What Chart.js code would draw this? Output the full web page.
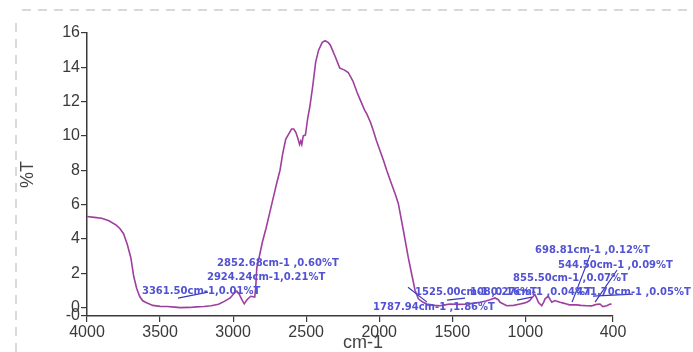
<!DOCTYPE html>
<html>
<head>
<meta charset="utf-8">
<script src="https://cdn.jsdelivr.net/npm/chart.js@4/dist/chart.umd.min.js"></script>
<style>
  html, body { margin: 0; padding: 0; background: #fff; }
</style>
</head>
<body>
<canvas id="ftir" width="693" height="352"></canvas>
<script>
// FTIR spectrum, %T vs wavenumber (cm-1), reversed x axis

const wavenumber = [
  4000, 3950, 3900, 3850, 3800, 3775, 3750, 3725, 3700, 3680, 3660, 3640, 3620, 3600,
  3550, 3500, 3450, 3400, 3361, 3300, 3250, 3200, 3150, 3100, 3060, 3020, 2990, 2975,
  2960, 2940, 2924, 2905, 2880, 2852, 2845, 2838, 2820, 2800, 2775, 2750, 2725, 2700,
  2679, 2660, 2640, 2620, 2600, 2585, 2570, 2555, 2545, 2537, 2530, 2520, 2505, 2490,
  2475, 2455, 2435, 2415, 2390, 2370, 2350, 2335, 2315, 2300, 2270, 2240, 2212, 2180,
  2150, 2130, 2100, 2086, 2060, 2040, 2020, 1995, 1970, 1949, 1920, 1890, 1869, 1835,
  1801, 1778, 1755, 1732, 1700, 1675, 1620, 1584, 1550, 1516, 1450, 1400, 1350, 1310,
  1270, 1242, 1207, 1185, 1173, 1150, 1127, 1080, 1036, 1010, 990, 970, 956, 934,
  920, 911, 888, 875, 865, 843, 830, 819, 797, 780, 762, 740, 717, 698,
  650, 620, 580, 545, 535, 510, 489, 470, 443, 420, 410
];
const transmittance = [
  5.3, 5.25, 5.2, 5.05, 4.8, 4.6, 4.3, 3.7, 2.9, 1.8, 1.1, 0.65, 0.4, 0.3,
  0.12, 0.06, 0.05, 0.02, -0.01, 0.0, 0.03, 0.05, 0.1, 0.18, 0.35, 0.55, 0.85, 0.95,
  0.8, 0.45, 0.21, 0.45, 0.65, 0.6, 1.2, 2.3, 3.0, 3.8, 4.6, 5.5, 6.4, 7.3,
  8.0, 9.0, 9.8, 10.1, 10.4, 10.4, 10.2, 9.8, 9.5, 9.7, 9.5, 10.0, 10.05, 11.0,
  11.7, 12.9, 14.3, 15.0, 15.45, 15.55, 15.45, 15.3, 14.9, 14.6, 13.95, 13.85, 13.7, 13.2,
  12.5, 12.1, 11.5, 11.3, 10.8, 10.3, 9.75, 9.15, 8.55, 8.0, 7.3, 6.6, 6.05, 4.5,
  2.9, 1.95, 1.0, 0.5, 0.3, 0.2, 0.12, 0.1, 0.15, 0.2, 0.18, 0.2, 0.25, 0.3,
  0.38, 0.45, 0.55, 0.45, 0.3, 0.2, 0.1, 0.12, 0.2, 0.25, 0.3, 0.4, 0.55, 0.75,
  0.5, 0.3, 0.1, 0.3, 0.5, 0.65, 0.45, 0.3, 0.4, 0.35, 0.3, 0.25, 0.2, 0.15,
  0.15, 0.12, 0.1, 0.09, 0.12, 0.18, 0.2, 0.05, 0.1, 0.2, 0.18
];

const xTicks = [4000, 3500, 3000, 2500, 2000, 1500, 1000, 400];
const yTicks = [16, 14, 12, 10, 8, 6, 4, 2, 0, -0.5];
const yTickLabels = ["16", "14", "12", "10", "8", "6", "4", "2", "0", "-0"];

// peak annotations: text + where the text starts (cm-1, %T)
const peakText = [
  "2852.68cm-1 ,0.60%T", "2924.24cm-1,0.21%T", "3361.50cm-1,0.01%T",
  "1787.94cm-1 ,1.86%T", "1525.00cm-1 ,0.16%T", "1080.27cm-1 ,0.04%T",
  "471.70cm-1 ,0.05%T", "855.50cm-1 ,0.07%T", "544.50cm-1 ,0.09%T",
  "698.81cm-1 ,0.12%T"
];
const peakTextWn = [3110, 3179, 3624, 2042, 1755, 1379, 653, 1084, 776, 934];
const peakTextT = [2.58, 1.74, 0.92, -0.01, 0.89, 0.89, 0.89, 1.71, 2.47, 3.34];

// hand-drawn leader strokes [wn1, T1, wn2, T2]
const leaderLines = [
  [3377, 0.54, 3172, 0.89],
  [1803, 1.18, 1673, 0.31],
  [1536, 0.43, 1413, 0.54],
  [1057, 0.43, 955, 0.60],
  [557, 3.05, 680, 0.31],
  [372, 2.18, 523, 0.31],
  [537, 0.66, 263, 0.78]
];

const TICK_FONT = { family: "'Liberation Sans', Arial, sans-serif", size: 16 };
const AXIS_COLOR = "#3a3a3a";

const decor = {
  id: "decor",
  beforeDraw(chart) {
    const ctx = chart.ctx;
    ctx.save();
    ctx.strokeStyle = "#cdcdcd";
    ctx.lineWidth = 1.5;
    ctx.setLineDash([9, 7]);
    ctx.beginPath();
    ctx.moveTo(16, 352);
    ctx.lineTo(16, 16);
    ctx.moveTo(22, 10);
    ctx.lineTo(693, 10);
    ctx.stroke();
    ctx.restore();
  },
  afterDatasetsDraw(chart) {
    const { ctx, chartArea } = chart;
    const x = chart.scales.x, y = chart.scales.y;
    ctx.save();
    ctx.strokeStyle = "#3838bc";
    ctx.lineWidth = 1.2;
    leaderLines.forEach(l => {
      ctx.beginPath();
      ctx.moveTo(x.getPixelForValue(l[0]), y.getPixelForValue(l[1]));
      ctx.lineTo(x.getPixelForValue(l[2]), y.getPixelForValue(l[3]));
      ctx.stroke();
    });
    ctx.fillStyle = "#5252d4";
    ctx.font = "bold 10px 'DejaVu Sans', sans-serif";
    ctx.textAlign = "left";
    ctx.textBaseline = "middle";
    peakText.forEach((t, i) => {
      ctx.fillText(t, x.getPixelForValue(peakTextWn[i]), y.getPixelForValue(peakTextT[i]));
    });
    // x axis title, sits a bit right of centre in the original
    ctx.fillStyle = "#444";
    ctx.font = "18px 'Liberation Sans', Arial, sans-serif";
    ctx.textAlign = "center";
    ctx.fillText("cm-1", (chartArea.left + chartArea.right) / 2 + 13, 343);
    ctx.restore();
  }
};

new Chart(document.getElementById("ftir"), {
  type: "scatter",
  data: {
    datasets: [{
      data: wavenumber.map((w, i) => ({ x: w, y: transmittance[i] })),
      showLine: true,
      borderColor: "#9e3f9e",
      borderWidth: 1.6,
      pointRadius: 0,
      tension: 0,
    }],
  },
  options: {
    responsive: false,
    animation: false,
    events: [],
    layout: { padding: { left: 18, top: 33, right: 80, bottom: 0 } },
    plugins: { legend: { display: false }, tooltip: { enabled: false } },
    scales: {
      x: {
        type: "linear",
        reverse: true,
        min: 400, max: 4000,
        afterBuildTicks: s => { s.ticks = xTicks.map(v => ({ value: v })); },
        afterFit: s => { s.height = 36; },
        ticks: {
          color: AXIS_COLOR, font: TICK_FONT, padding: 1, maxRotation: 0, autoSkip: false,
          callback: v => String(v),
        },
        grid: { drawOnChartArea: false, drawTicks: true, tickLength: 6, color: AXIS_COLOR, lineWidth: 1.2 },
        border: { display: true, color: AXIS_COLOR, width: 1.5 },
      },
      y: {
        type: "linear",
        min: -0.5, max: 16,
        afterBuildTicks: s => { s.ticks = yTicks.map(v => ({ value: v })); },
        afterFit: s => { s.width = 69; },
        ticks: {
          color: AXIS_COLOR, font: TICK_FONT, padding: 1, autoSkip: false,
          callback: v => yTickLabels[yTicks.indexOf(v)],
        },
        grid: { drawOnChartArea: false, drawTicks: true, tickLength: 6, color: AXIS_COLOR, lineWidth: 1.2 },
        border: { display: true, color: AXIS_COLOR, width: 1.5 },
        title: {
          display: true, text: "%T", color: "#444",
          font: { family: "'Liberation Sans', Arial, sans-serif", size: 18, lineHeight: 1 },
          padding: { top: 1, bottom: 0 },
        },
      },
    },
  },
  plugins: [decor],
});
</script>
</body>
</html>
